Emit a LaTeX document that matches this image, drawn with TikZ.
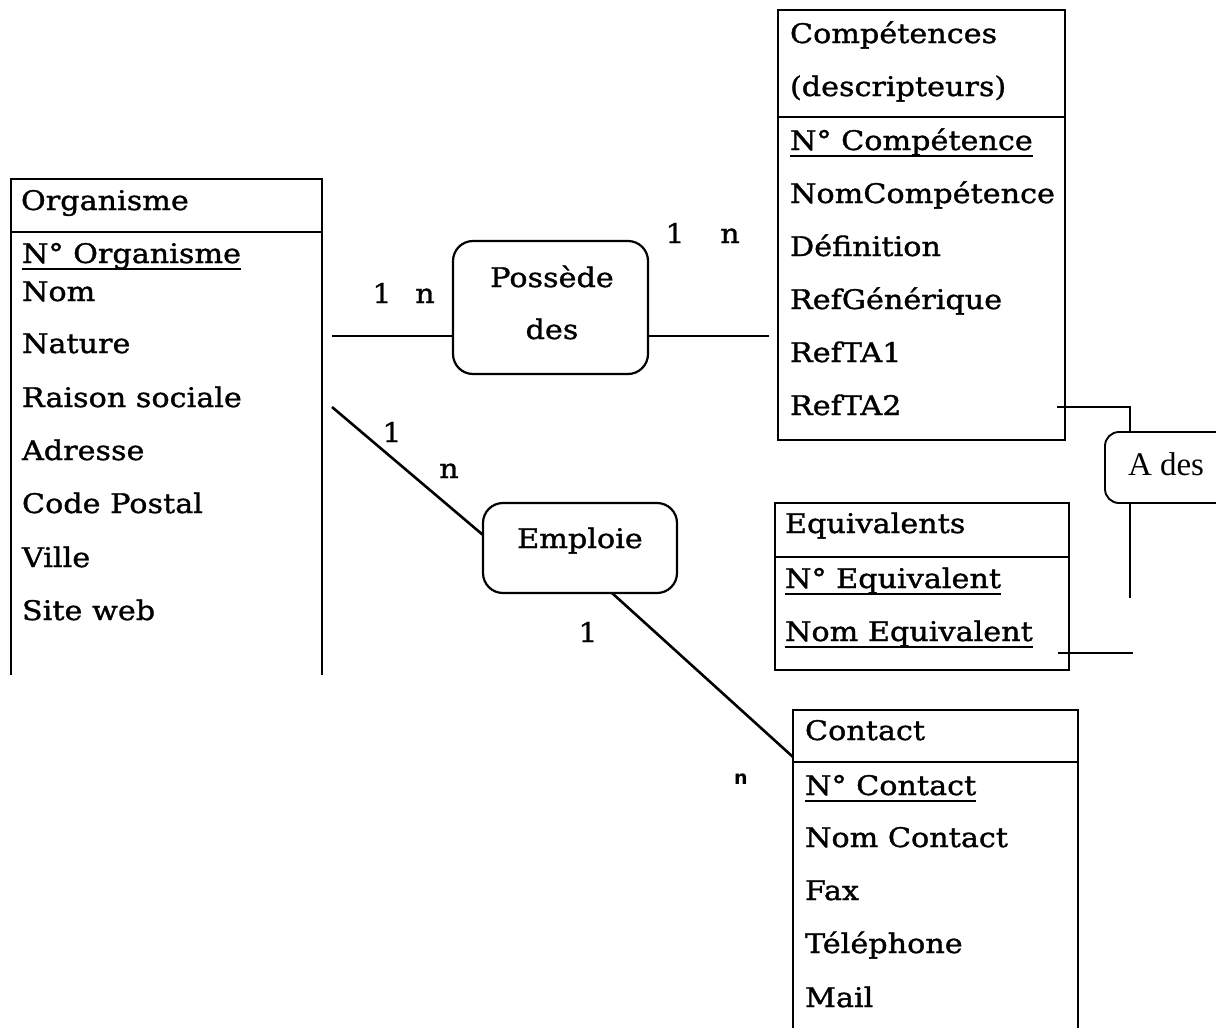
\documentclass[tikz,border=0pt]{standalone}
\usepackage{fontspec}
\setmainfont{DejaVu Serif}[FakeStretch=1.12,FakeBold=1.2]
\setsansfont{DejaVu Sans}
\newfontfamily\timesfont{Liberation Serif}
\newcommand\keyul[1]{\setbox0\hbox{#1}\rlap{\rule[-6.5pt]{\wd0}{1.7pt}}\box0}
\begin{document}
\begin{tikzpicture}[x=1pt,y=-1pt,
  every node/.style={inner sep=0pt, outer sep=0pt},
  txt/.style={anchor=base west, font=\fontsize{27}{32}\selectfont},
  ctxt/.style={anchor=base, font=\fontsize{27}{32}\selectfont},
  card/.style={anchor=base, font=\fontsize{27}{32}\selectfont},
  smallcard/.style={anchor=base, font=\sffamily\bfseries\fontsize{19}{22}\selectfont},
  entbox/.style={line width=1.7pt, anchor=north west},
  entline/.style={line width=1.7pt},
  relbox/.style={draw, line width=2.2pt, rounded corners=20pt},
  conn/.style={line width=2.6pt},
  thinconn/.style={line width=1.8pt},
]
\useasboundingbox (0,0) rectangle (1216,1028);

% ---------- Organisme ----------
\node[entbox, minimum width=311pt, minimum height=496pt] (org) at (11,179) {};
\draw[entline] (org.south west) -- (org.north west) -- (org.north east) -- (org.south east);
\draw[entline] ([yshift=-53pt]org.north west) -- ([yshift=-53pt]org.north east);
\node[txt] at (21,210) {Organisme};
\node[txt] at (22,263) {\keyul{N° Organisme}};
\node[txt] at (22,301) {Nom};
\node[txt] at (22,353) {Nature};
\node[txt] at (22,407) {Raison sociale};
\node[txt] at (22,460) {Adresse};
\node[txt] at (22,513) {Code Postal};
\node[txt] at (22,567) {Ville};
\node[txt] at (22,620) {Site web};

% ---------- Compétences ----------
\node[entbox, draw, minimum width=287pt, minimum height=430pt] (comp) at (778,10) {};
\draw[entline] ([yshift=-107pt]comp.north west) -- ([yshift=-107pt]comp.north east);
\node[txt] at (790,43) {Compétences};
\node[txt] at (790,96) {(descripteurs)};
\node[txt] at (790,150) {\keyul{N° Compétence}};
\node[txt] at (790,203) {NomCompétence};
\node[txt] at (790,256) {Définition};
\node[txt] at (790,309) {RefGénérique};
\node[txt] at (790,362) {RefTA1};
\node[txt] at (790,415) {RefTA2};

% ---------- Equivalents ----------
\node[entbox, draw, minimum width=294pt, minimum height=167pt] (equ) at (775,503) {};
\draw[entline] ([yshift=-54pt]equ.north west) -- ([yshift=-54pt]equ.north east);
\node[txt] at (785,533) {Equivalents};
\node[txt] at (785,588) {\keyul{N° Equivalent}};
\node[txt] at (785,641) {\keyul{Nom Equivalent}};

% ---------- Contact ----------
\node[entbox, minimum width=285pt, minimum height=330pt] (cont) at (793,710) {};
\draw[entline] (cont.south west) -- (cont.north west) -- (cont.north east) -- (cont.south east);
\draw[entline] ([yshift=-52pt]cont.north west) -- ([yshift=-52pt]cont.north east);
\node[txt] at (805,740) {Contact};
\node[txt] at (805,795) {\keyul{N° Contact}};
\node[txt] at (805,847) {Nom Contact};
\node[txt] at (805,900) {Fax};
\node[txt] at (805,953) {Téléphone};
\node[txt] at (805,1007) {Mail};

% ---------- Relations ----------
\node[relbox, minimum width=195pt, minimum height=133pt] (pos) at (550.5,307.5) {};
\node[ctxt] at (552,287) {Possède};
\node[ctxt] at (552,339) {des};

\node[relbox, minimum width=194pt, minimum height=90pt] (emp) at (580,548) {};
\node[ctxt] at (580,548) {Emploie};

\node[relbox, line width=1.9pt, rounded corners=14pt, minimum width=140pt, minimum height=71pt] (ades) at (1175,467.5) {};
\node[anchor=base west, font=\timesfont\fontsize{33}{38}\selectfont] at (1128,475) {A des};

% ---------- Connectors ----------
\coordinate (posL) at (332,336);
\coordinate (posR) at (769,336);
\draw[conn] (posL) -- (pos.west |- posL);
\draw[conn] (pos.east |- posR) -- (posR);

\coordinate (empA) at (332,407);
\coordinate (empB) at (483,535);
\draw[conn] (empA) -- (empB);
\coordinate (empC) at (612,593);
\coordinate (contA) at (793,757);
\draw[conn] (empC) -- (contA);

\coordinate (ta2) at (1057,407);
\draw[thinconn] (ta2) -| ([xshift=25pt]ades.north west);
\coordinate (adesEnd) at (1130,598);
\draw[conn] ([xshift=25pt]ades.south west) -- (adesEnd);
\coordinate (eqA) at (1058,653);
\coordinate (eqB) at (1133,653);
\draw[thinconn] (eqA) -- (eqB);

% ---------- Cardinalities ----------
\node[card] at (382,303) {1};
\node[card] at (425,303) {n};
\node[card] at (675,243) {1};
\node[card] at (730,243) {n};
\node[card] at (392,442) {1};
\node[card] at (449,478) {n};
\node[card] at (588,642) {1};
\node[smallcard] at (741,784) {n};
\end{tikzpicture}
\end{document}
